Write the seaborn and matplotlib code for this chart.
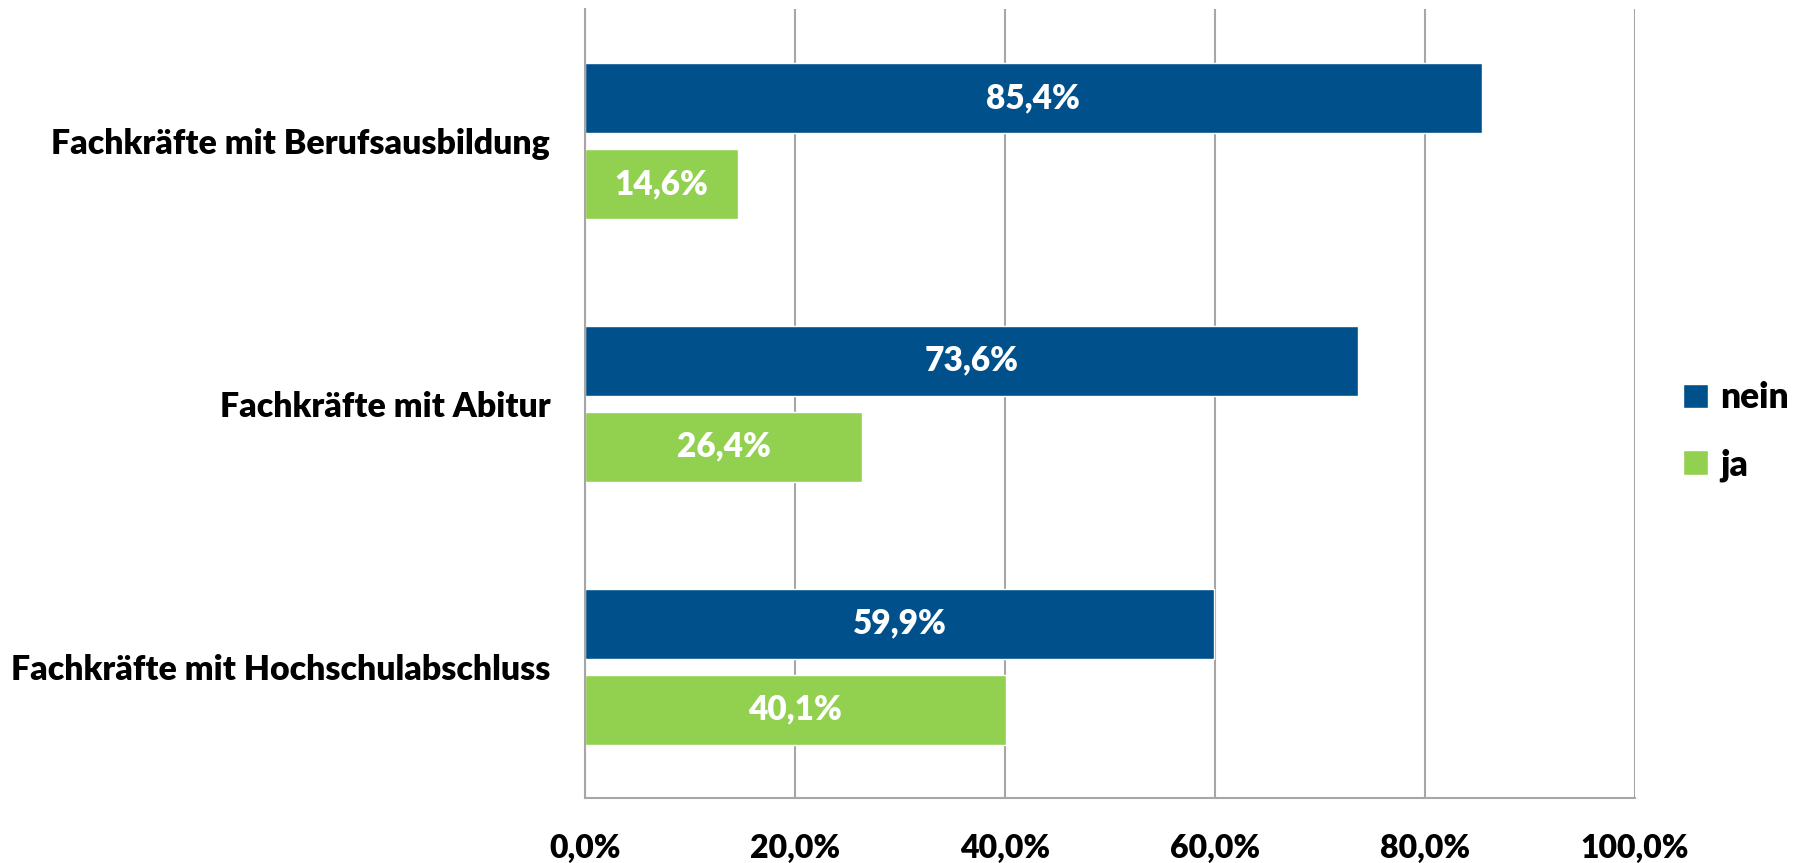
import matplotlib.pyplot as plt
import pandas as pd
import seaborn as sns

categories = [
    "Fachkräfte mit Berufsausbildung",
    "Fachkräfte mit Abitur",
    "Fachkräfte mit Hochschulabschluss",
]
nein = [85.4, 73.6, 59.9]
ja = [14.6, 26.4, 40.1]
series = ["nein", "ja"]
xticks = [0, 20, 40, 60, 80, 100]

COLORS = {"nein": "#00508C", "ja": "#92D050"}
FONT = ["Lato", "DejaVu Sans"]

df = pd.DataFrame({
    "kategorie": categories * 2,
    "antwort": ["nein"] * len(categories) + ["ja"] * len(categories),
    "wert": nein + ja,
})

sns.set_theme(style="white")
plt.rcParams["font.family"] = FONT
plt.rcParams["font.weight"] = "bold"
plt.rcParams["text.color"] = "black"
plt.rcParams["xtick.color"] = "black"
plt.rcParams["ytick.color"] = "black"

fig = plt.figure(figsize=(18.01, 8.63), dpi=100)
ax = fig.add_axes([0.3248, 0.0753, 0.583, 0.9137])

sns.barplot(data=df, x="wert", y="kategorie", hue="antwort", order=categories,
            hue_order=series, palette=COLORS, orient="h", width=0.655, gap=0.187,
            saturation=1, ax=ax)

for cont in ax.containers:
    labels = [f"{b.get_width():.1f}%".replace(".", ",") for b in cont]
    ax.bar_label(cont, labels=labels, label_type="center", color="white",
                 fontsize=24, fontweight="heavy")

ax.set_xlim(0, 100)
ax.set_xticks(xticks)
ax.set_xticklabels([f"{v:.1f}%".replace(".", ",") for v in xticks],
                   fontsize=23, fontweight="heavy")
ax.set_yticks(range(len(categories)))
ax.set_yticklabels(categories, fontsize=24.4, fontweight="heavy")
ax.set_xlabel("")
ax.set_ylabel("")
ax.tick_params(axis="x", length=0, pad=26, labelcolor="black")
ax.tick_params(axis="y", length=0, pad=25, labelcolor="black")
ax.grid(axis="x", color="#A6A6A6", linewidth=1.5)
ax.set_axisbelow(True)
for side in ["top", "right"]:
    ax.spines[side].set_visible(False)
for side in ["left", "bottom"]:
    ax.spines[side].set_color("#A6A6A6")
    ax.spines[side].set_linewidth(1.5)

handles, labs = ax.get_legend_handles_labels()
ax.legend_.remove()
fig.legend(handles, labs, loc="center left", bbox_to_anchor=(0.917, 0.5),
           frameon=False, handlelength=0.7, handleheight=0.7,
           handletextpad=0.35, labelspacing=0.95, labelcolor="black",
           prop={"size": 25.5, "weight": "heavy", "family": FONT})

fig.savefig("out.png", dpi=100)
